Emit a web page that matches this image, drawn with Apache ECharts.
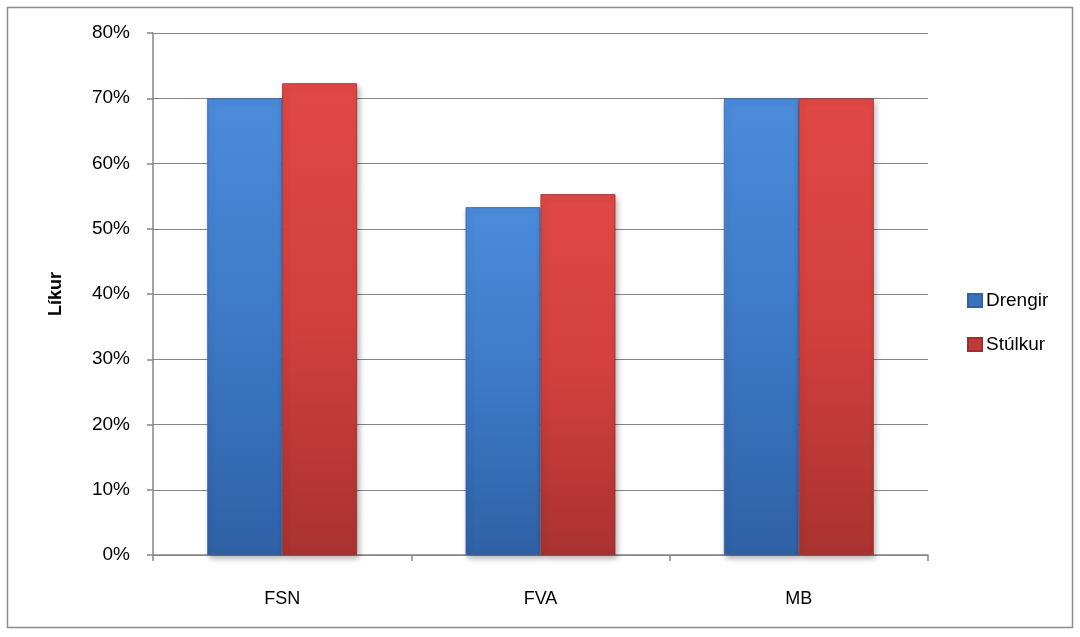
<!DOCTYPE html>
<html><head><meta charset="utf-8">
<script src="https://cdn.jsdelivr.net/npm/echarts@6/dist/echarts.min.js"></script>
<style>html,body{margin:0;padding:0;background:#fff}#c{width:1080px;height:637px}</style>
</head><body><div id="c"></div>
<script>
const categories = ['FSN', 'FVA', 'MB'];
const drengir = [70.0, 53.3, 70.0];
const stulkur = [72.3, 55.3, 70.0];
const yTicks = [0, 10, 20, 30, 40, 50, 60, 70, 80];

const font = '"Liberation Sans", Arial, sans-serif';
function grad(top, mid, bot) {
  return new echarts.graphic.LinearGradient(0, 0, 0, 1, [
    {offset: 0, color: top}, {offset: 0.5, color: mid}, {offset: 1, color: bot}
  ]);
}
const chart = echarts.init(document.getElementById('c'), null, {renderer: 'canvas'});
chart.setOption({
  animation: false,
  graphic: [{type: 'rect', shape: {x: 7.5, y: 7.5, width: 1065, height: 620},
    style: {fill: 'none', stroke: '#8c8c8c', lineWidth: 1.5}, silent: true}],
  grid: {left: 153, right: 152, top: 33, bottom: 82, containLabel: false},
  legend: {
    orient: 'vertical', left: 962, top: 286, itemGap: 25,
    itemWidth: 14, itemHeight: 13, icon: 'rect',
    textStyle: {fontFamily: font, fontSize: 19, color: '#000', padding: [0, 0, 0, -1]},
    data: [{name: 'Drengir', itemStyle: {color: '#3A72BC'}}, {name: 'Stúlkur', itemStyle: {color: '#C23A37'}}]
  },
  xAxis: {
    type: 'category', data: categories,
    axisLine: {lineStyle: {color: '#868686', width: 1.5}},
    axisTick: {show: true, length: 6, lineStyle: {color: '#868686', width: 1.5}},
    axisLabel: {fontFamily: font, fontSize: 18, color: '#000', margin: 35}
  },
  yAxis: {
    type: 'value', min: 0, max: 80, interval: 10,
    name: 'Líkur', nameLocation: 'middle', nameGap: 88, nameRotate: 90,
    nameTextStyle: {fontFamily: font, fontSize: 18, fontWeight: 'bold', color: '#000'},
    axisLine: {show: true, lineStyle: {color: '#868686', width: 1.5}},
    axisTick: {show: true, length: 6, lineStyle: {color: '#868686', width: 1.5}},
    splitLine: {lineStyle: {color: '#868686', width: 1.2}},
    axisLabel: {fontFamily: font, fontSize: 19, color: '#000', margin: 23,
      formatter: v => yTicks.includes(v) ? v + '%' : ''}
  },
  series: [
    {name: 'Drengir', type: 'bar', data: drengir, barGap: '0%', barCategoryGap: '42%',
      itemStyle: {color: grad('#4C8CDB', '#3D79C6', '#2F61A6'), borderColor: '#3262A3', borderWidth: 0.8,
        shadowColor: 'rgba(0,0,0,0.3)', shadowBlur: 6, shadowOffsetX: 2, shadowOffsetY: 3}},
    {name: 'Stúlkur', type: 'bar', data: stulkur, barGap: '0%', barCategoryGap: '42%',
      itemStyle: {color: grad('#E04845', '#D2403D', '#A93230'), borderColor: '#9C2F2D', borderWidth: 0.8,
        shadowColor: 'rgba(0,0,0,0.3)', shadowBlur: 6, shadowOffsetX: 2, shadowOffsetY: 3}}
  ]
});
</script></body></html>
